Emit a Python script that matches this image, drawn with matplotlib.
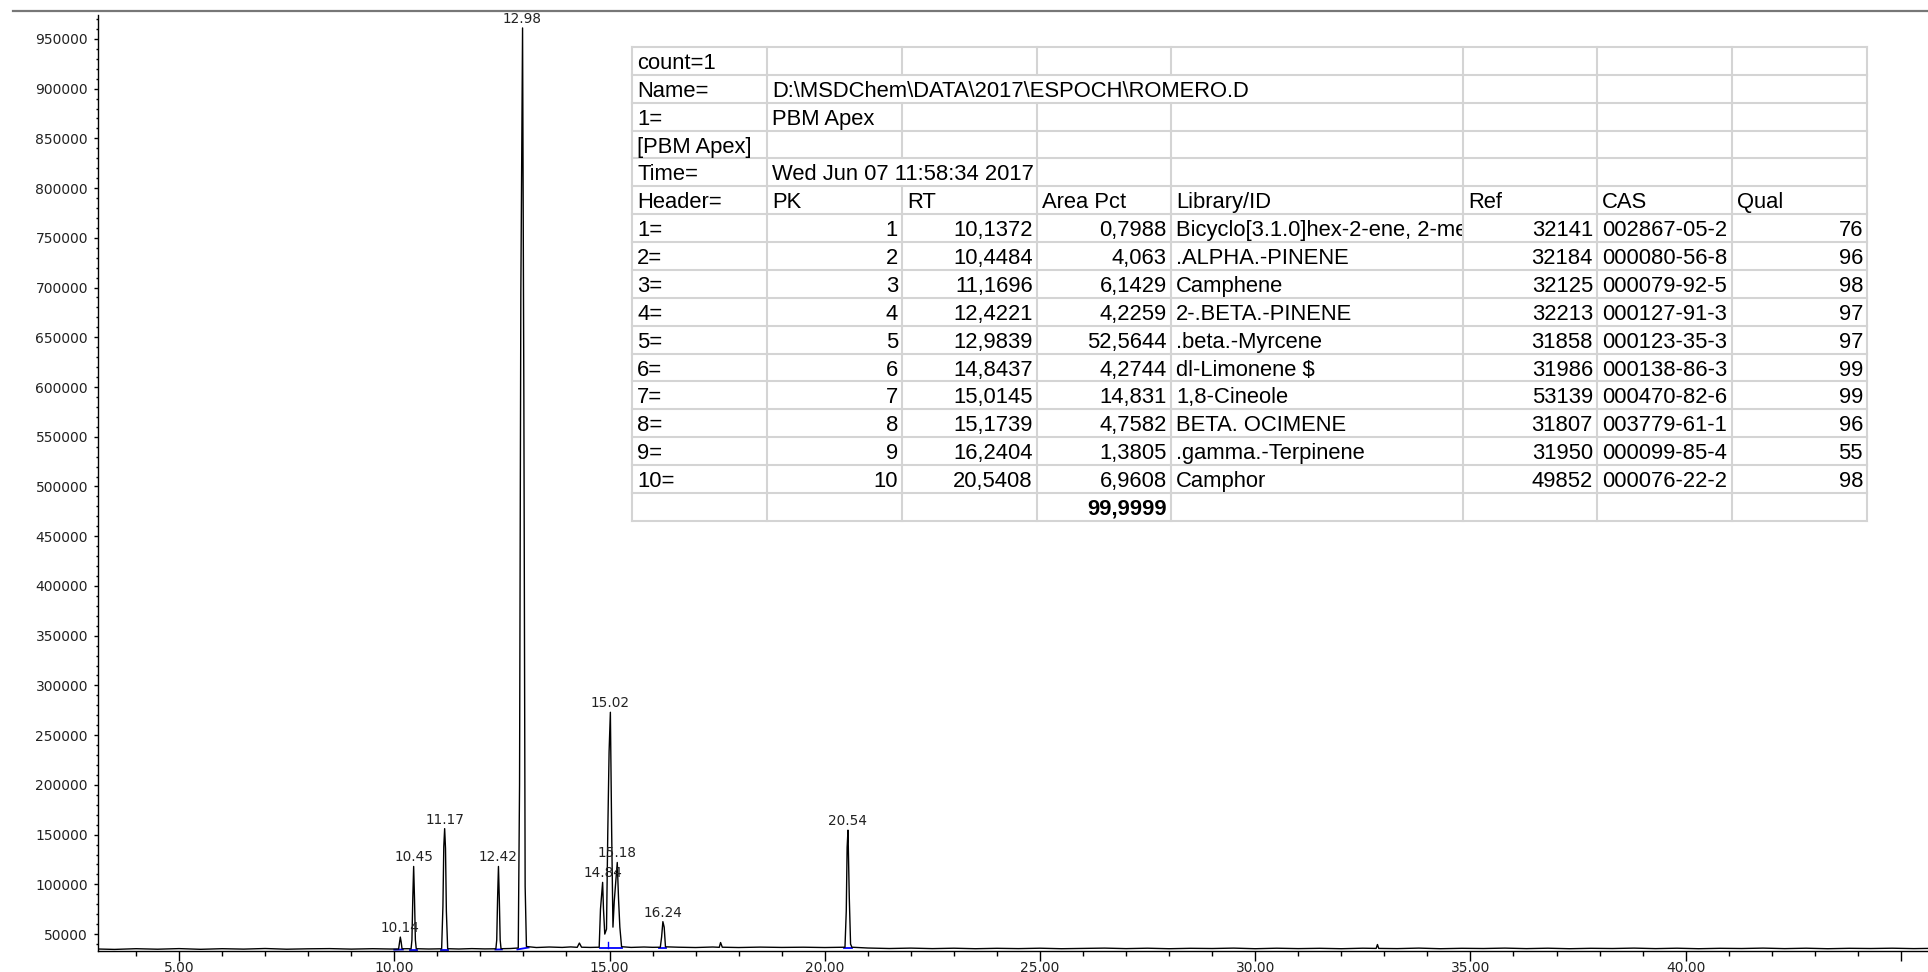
import matplotlib
matplotlib.use("Agg")
import matplotlib.pyplot as plt
from matplotlib.lines import Line2D
from matplotlib.patches import Rectangle
from matplotlib.transforms import Bbox, TransformedBbox
from matplotlib.ticker import FixedLocator, MultipleLocator

# chromatogram trace (time in min, abundance)
trace_t = [3.11, 3.5, 4.0, 4.5, 5.0, 5.5, 6.0, 6.5, 7.0, 7.5, 8.0, 8.5, 9.0, 9.5, 9.9,
           10.10, 10.12, 10.14, 10.16, 10.18, 10.30,
           10.39, 10.41, 10.43, 10.45, 10.47, 10.49, 10.51, 10.8,
           11.10, 11.13, 11.15, 11.17, 11.19, 11.21, 11.24, 11.5, 11.8, 12.1,
           12.36, 12.38, 12.40, 12.42, 12.44, 12.46, 12.48, 12.7,
           12.88, 12.91, 12.94, 12.98, 13.01, 13.04, 13.07,
           13.3, 13.6, 13.9, 14.1, 14.25, 14.30, 14.35, 14.55,
           14.76, 14.79, 14.81, 14.84, 14.86, 14.89, 14.93, 14.96, 14.99, 15.02, 15.05,
           15.08, 15.11, 15.14, 15.18, 15.21, 15.24, 15.28,
           15.5, 15.8, 16.0, 16.18, 16.21, 16.24, 16.27, 16.30,
           16.6, 17.0, 17.4, 17.55, 17.58, 17.62, 18.0, 18.5, 19.0, 19.5, 20.0, 20.4,
           20.47, 20.50, 20.52, 20.54, 20.57, 20.60, 20.63,
           21.0, 21.5, 22.0, 22.5, 23.0, 23.5, 24.0, 24.5, 25.0, 25.5, 26.0, 26.5,
           27.0, 27.5, 28.0, 28.5, 29.0, 29.5, 30.0, 30.5, 31.0, 31.5, 32.0, 32.5,
           32.81, 32.84, 32.87, 33.3, 33.8, 34.3, 34.8, 35.3, 35.8, 36.3, 36.8, 37.3,
           37.8, 38.3, 38.8, 39.3, 39.8, 40.3, 40.8, 41.3, 41.8, 42.3, 42.8, 43.3,
           43.8, 44.3, 44.8, 45.3, 45.63]
trace_y = [35000, 34600, 35300, 34800, 35400, 34700, 35300, 34900, 35500, 34800, 35200, 35400, 34900, 35300, 35000,
           35000, 41000, 47000, 42000, 35200, 35300,
           35200, 44000, 86000, 118000, 85000, 44000, 35300, 35000,
           35200, 78000, 138000, 156000, 136000, 73000, 35300, 35000, 35400, 35100,
           35200, 44000, 86000, 118000, 85000, 44000, 35300, 35500,
           36000, 200000, 695000, 961000, 590000, 98000, 37500,
           36500, 37000, 36600, 37100, 36700, 41000, 36800, 36600,
           36800, 75000, 86000, 102000, 75000, 50000, 55000, 153000, 233000, 273000, 153000,
           57000, 83000, 100000, 122000, 85000, 57000, 37300,
           36600, 37000, 36700, 36800, 47000, 62500, 57000, 37200,
           36800, 36500, 37000, 36700, 41500, 36800, 36500, 36900, 36600, 36800, 36500, 36800,
           36800, 73000, 137000, 154500, 87000, 40000, 36800,
           36000, 35500, 35900, 35400, 35800, 35300, 35700, 35400, 35800, 35300, 35600, 35900,
           35400, 35800, 35300, 35700, 35500, 35900, 35300, 35800, 35400, 35700, 35300, 35800,
           35600, 39500, 35600, 35400, 35900, 35300, 35700, 35500, 35900, 35400, 35800, 35300,
           35700, 35500, 35900, 35400, 35800, 35300, 35700, 35500, 35900, 35400, 35800, 35300,
           35700, 35500, 35800, 35400, 35600]

# labelled peak apexes
peak_label = ["10.14", "10.45", "11.17", "12.42", "12.98", "14.84", "15.02", "15.18", "16.24", "20.54"]
peak_rt = [10.14, 10.45, 11.17, 12.42, 12.98, 14.84, 15.02, 15.18, 16.24, 20.54]
peak_top = [47000, 118000, 156000, 118000, 961000, 102000, 273000, 122000, 62500, 154500]

# integration baselines (blue)
int_start = [10.00, 10.37, 11.09, 12.35, 12.86, 14.77, 16.16, 20.45]
int_end = [10.20, 10.53, 11.25, 12.50, 13.12, 15.30, 16.31, 20.64]
int_y0 = [34300, 34500, 34500, 34500, 34600, 36000, 36000, 36000]
int_y1 = [34500, 34500, 34500, 34600, 36500, 36000, 36000, 36000]
split_t = [14.96]

# integration report table
header = ["Header=", "PK", "RT", "Area Pct", "Library/ID", "Ref", "CAS", "Qual"]
pk = [1, 2, 3, 4, 5, 6, 7, 8, 9, 10]
rt = ["10,1372", "10,4484", "11,1696", "12,4221", "12,9839", "14,8437", "15,0145",
      "15,1739", "16,2404", "20,5408"]
area_pct = ["0,7988", "4,063", "6,1429", "4,2259", "52,5644", "4,2744", "14,831",
            "4,7582", "1,3805", "6,9608"]
# first name is cut off by the cell edge in the report
library = ["Bicyclo[3.1.0]hex-2-ene, 2-me", ".ALPHA.-PINENE",
           "Camphene", "2-.BETA.-PINENE", ".beta.-Myrcene", "dl-Limonene $",
           "1,8-Cineole", "BETA. OCIMENE", ".gamma.-Terpinene", "Camphor"]
ref = [32141, 32184, 32125, 32213, 31858, 31986, 53139, 31807, 31950, 49852]
cas = ["002867-05-2", "000080-56-8", "000079-92-5", "000127-91-3", "000123-35-3",
       "000138-86-3", "000470-82-6", "003779-61-1", "000099-85-4", "000076-22-2"]
qual = [76, 96, 98, 97, 97, 99, 99, 96, 55, 98]
area_total = "99,9999"
info_rows = [("count=1", ""), ("Name=", "D:\\MSDChem\\DATA\\2017\\ESPOCH\\ROMERO.D"),
             ("1=", "PBM Apex"), ("[PBM Apex]", ""), ("Time=", "Wed Jun 07 11:58:34 2017")]
info_span = [1, 4, 1, 1, 2]

W, H = 1928, 972
fig = plt.figure(figsize=(W / 100, H / 100), dpi=100)
fig.patch.set_facecolor("white")

# --- chromatogram ---
ax = fig.add_axes([97.7 / W, 1 - 950.7 / H, 1 - 97.7 / W, (950.7 - 15) / H])
ax.plot(trace_t, trace_y, color="black", lw=1.0, zorder=3)
for s, e, y0, y1 in zip(int_start, int_end, int_y0, int_y1):
    ax.plot([s, e], [y0, y1], color="#0000ff", lw=1.3, zorder=2)
for s in split_t:
    ax.plot([s, s], [36000, 42000], color="#0000ff", lw=1.0, zorder=2)
for lab, x, y in zip(peak_label, peak_rt, peak_top):
    ax.annotate(lab, (x, y), xytext=(0, 1.5), textcoords="offset points",
                ha="center", va="bottom", fontsize=9.8, color="#222222",
                family="DejaVu Sans", zorder=4)

ax.set_xlim(3.11, 45.63)
ax.set_ylim(33300, 974000)
for side in ["top", "right"]:
    ax.spines[side].set_visible(False)
for side in ["left", "bottom"]:
    ax.spines[side].set_linewidth(1.0)
    ax.spines[side].set_color("black")

xt = [5, 10, 15, 20, 25, 30, 35, 40, 45]
ax.xaxis.set_major_locator(FixedLocator(xt))
ax.set_xticklabels(["%.2f" % v if v < 45 else "" for v in xt])
ax.xaxis.set_minor_locator(MultipleLocator(1))
yt = list(range(50000, 950001, 50000))
ax.yaxis.set_major_locator(FixedLocator(yt))
ax.set_yticklabels([str(v) for v in yt])
ax.yaxis.set_minor_locator(MultipleLocator(10000))
ax.tick_params(axis="x", which="major", direction="out", length=7.2, width=1,
               pad=0.3, labelsize=10, labelcolor="#222222")
ax.tick_params(axis="x", which="minor", direction="out", length=3.6, width=1)
ax.tick_params(axis="y", which="major", direction="out", length=3, width=1,
               pad=4, labelsize=10, labelcolor="#222222")
ax.tick_params(axis="y", which="minor", direction="out", length=1.6, width=1)

# grey rule along the top
fig.add_artist(Line2D([13 / W, 1], [1 - 11 / H, 1 - 11 / H], color="#777777", lw=1.6,
                      transform=fig.transFigure))

# --- report table (pixel coordinates) ---
tx = fig.add_axes([0, 0, 1, 1], zorder=5)
tx.set_xlim(0, W)
tx.set_ylim(H, 0)
tx.axis("off")
tx.patch.set_visible(False)

col_w = [135, 135, 135, 134, 292, 134, 135, 135]
col_x = [632]
for w in col_w:
    col_x.append(col_x[-1] + w)
row_h = 27.87
top = 47
n_rows = len(info_rows) + 1 + len(pk) + 1
row_y = [top + i * row_h for i in range(n_rows + 1)]
grid = "#d4d4d4"
fs = 15.8
fam = "Liberation Sans"

tx.add_patch(Rectangle((col_x[0], row_y[0]), col_x[-1] - col_x[0], row_y[-1] - row_y[0],
                       facecolor="white", edgecolor="none"))
for y in row_y:
    tx.plot([col_x[0], col_x[-1]], [y, y], color=grid, lw=1.5)

def cell_text(r, c, s, align="left", weight="normal", clip=False):
    yb = row_y[r] + 0.79 * row_h
    if align == "left":
        x = col_x[c] + 5
    else:
        x = col_x[c + 1] - 4
    t = tx.text(x, yb, s, ha=align, va="baseline", fontsize=fs, family=fam,
                weight=weight, color="black")
    if clip:
        box = Bbox.from_extents(col_x[c], row_y[r], col_x[c + 1] - 1, row_y[r + 1])
        t.set_clip_box(TransformedBbox(box, tx.transData))
        t.set_clip_on(True)

# vertical borders, skipping those covered by overflowing text
for r in range(n_rows):
    span = info_span[r] if r < len(info_rows) else 1
    for i, x in enumerate(col_x):
        if 1 < i <= span:
            continue
        tx.plot([x, x], [row_y[r], row_y[r + 1]], color=grid, lw=1.5)

for r, (a, b) in enumerate(info_rows):
    cell_text(r, 0, a)
    if b:
        cell_text(r, 1, b)

hr = len(info_rows)
for c, s in enumerate(header):
    cell_text(hr, c, s)

for i in range(len(pk)):
    r = hr + 1 + i
    cell_text(r, 0, "%d=" % pk[i])
    cell_text(r, 1, str(pk[i]), "right")
    cell_text(r, 2, rt[i], "right")
    cell_text(r, 3, area_pct[i], "right")
    cell_text(r, 4, library[i], clip=True)
    cell_text(r, 5, str(ref[i]), "right")
    cell_text(r, 6, cas[i])
    cell_text(r, 7, str(qual[i]), "right")

cell_text(n_rows - 1, 3, area_total, "right", weight="bold")

fig.savefig("out.png", dpi=100)
